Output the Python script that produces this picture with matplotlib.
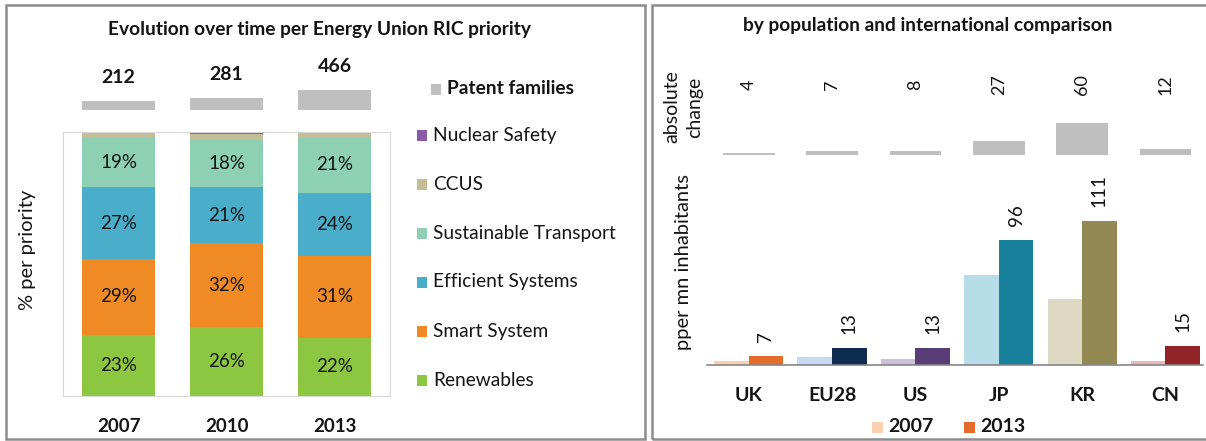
import matplotlib
matplotlib.use('Agg')

import numpy as np
import matplotlib.pyplot as plt
from matplotlib.patches import Rectangle

plt.rcParams['font.family'] = ['Lato', 'DejaVu Sans']

# Left panel: share per Energy Union RIC priority
years = ['2007', '2010', '2013']
patent_families = [212, 281, 466]
renewables = [23, 26, 22]
smart_system = [29, 32, 31]
efficient_systems = [27, 21, 24]
sustainable_transport = [19, 18, 21]
ccus = [1.5, 2.2, 1.5]
nuclear_safety = [0.5, 0.8, 0.5]

# Right panel: patent families per mn inhabitants
countries = ['UK', 'EU28', 'US', 'JP', 'KR', 'CN']
per_mn_2007 = [3, 6, 5, 69, 51, 3]
per_mn_2013 = [7, 13, 13, 96, 111, 15]
abs_change = [4, 7, 8, 27, 60, 12]

W, H = 1206, 441
TXT = '#141414'


def box(x0, y0, x1, y1):
    # pixel box (top-left origin) -> figure fraction rect
    return [x0 / W, 1 - y1 / H, (x1 - x0) / W, (y1 - y0) / H]


fig = plt.figure(figsize=(W / 100, H / 100), dpi=100)

# panel frames
for x0, x1 in [(6, 645), (652, 1210)]:
    fig.add_artist(Rectangle((x0 / W, 1 - 439 / H), (x1 - x0) / W, 434 / H,
                             transform=fig.transFigure, fill=False,
                             edgecolor='#8c8c8c', lw=1.8))

# ---- left: stacked shares ----
series = [
    ('Renewables', renewables, '#8dc641'),
    ('Smart System', smart_system, '#f08a24'),
    ('Efficient Systems', efficient_systems, '#4aadc9'),
    ('Sustainable Transport', sustainable_transport, '#8dd0b3'),
    ('CCUS', ccus, '#c4bd97'),
    ('Nuclear Safety', nuclear_safety, '#8a5aa8'),
]
x = np.arange(len(years))
ax = fig.add_axes(box(63, 132, 390, 396))
bottom = np.zeros(len(years))
for name, vals, col in series:
    bars = ax.bar(x, vals, 0.667, bottom=bottom, color=col, linewidth=0)
    if vals[0] >= 5:
        ax.bar_label(bars, labels=[f'{v:.0f}%' for v in vals],
                     label_type='center', fontsize=13.5, color=TXT)
    bottom += np.array(vals)
ax.set_xlim(-0.514, 2.514)
ax.set_ylim(0, 100)
ax.set_xticks(x)
ax.set_xticklabels(years, fontsize=13.5, fontweight='bold', color=TXT)
ax.tick_params(length=0, pad=16)
ax.set_yticks([])
for s in ax.spines.values():
    s.set_color('#d9d9d9')
fig.text(27 / W, 1 - 250 / H, '% per priority', rotation=90, fontsize=14.5,
         color=TXT, ha='center', va='center')

# patent family totals above the stacks
axp = fig.add_axes(box(63, 50, 390, 110))
pb = axp.bar(x, patent_families, 0.667, color='#bfbfbf', linewidth=0)
axp.bar_label(pb, padding=11, fontsize=14, fontweight='bold', color=TXT)
axp.set_xlim(-0.514, 2.514)
axp.set_ylim(0, 1400)
axp.axis('off')

fig.text(319 / W, 1 - 29 / H, 'Evolution over time per Energy Union RIC priority',
         fontsize=13.8, fontweight='bold', color=TXT, ha='center', va='center')

# legend column
leg_rows = [('Patent families', '#bfbfbf', 89, True)]
for i, (name, vals, col) in enumerate(reversed(series)):
    leg_rows.append((name, col, 135 + 49 * i, False))
for name, col, yc, bold in leg_rows:
    mx = 431 if bold else 417
    fig.add_artist(Rectangle((mx / W, 1 - (yc + 5.5) / H), 10 / W, 11 / H,
                             transform=fig.transFigure, color=col, lw=0))
    fig.text((mx + 16) / W, 1 - yc / H, name, fontsize=13.8, color=TXT,
             fontweight='bold' if bold else 'normal', va='center', ha='left')

# ---- right: per population and international comparison ----
light = ['#fbd0b0', '#c6d9f0', '#ccc0da', '#b7dde8', '#ddd9c3', '#e6b9b8']
dark = ['#e36c2a', '#0f2b50', '#5a3c78', '#17819c', '#938953', '#922326']
xc = np.arange(len(countries))
xlim = (-0.5, 5.45)

axt = fig.add_axes(box(707, 60, 1203, 155))
axt.bar(xc, abs_change, 0.62, color='#bfbfbf', linewidth=0)
for xi, v in zip(xc, abs_change):
    axt.text(xi, 0.74, str(v), transform=axt.get_xaxis_transform(),
             rotation=90, ha='center', va='center', fontsize=13, color=TXT)
axt.set_xlim(*xlim)
axt.set_ylim(0, 178)
axt.axis('off')

axb = fig.add_axes(box(707, 170, 1203, 365))
bw = 0.415
b07 = axb.bar(xc - bw / 2, per_mn_2007, bw, color=light, linewidth=0)
b13 = axb.bar(xc + bw / 2, per_mn_2013, bw, color=dark, linewidth=0)
axb.bar_label(b13, padding=10, rotation=90, fontsize=13.5, color=TXT)
axb.set_xlim(*xlim)
axb.set_ylim(0, 150)
axb.set_xticks(xc)
axb.set_xticklabels(countries, fontsize=14, fontweight='bold', color=TXT)
axb.tick_params(length=0, pad=16)
axb.set_yticks([])
for side in ['top', 'right', 'left']:
    axb.spines[side].set_visible(False)
axb.spines['bottom'].set_color('#868686')
axb.spines['bottom'].set_linewidth(1.2)

fig.text(928 / W, 1 - 26 / H, 'by population and international comparison',
         fontsize=13.8, fontweight='bold', color=TXT, ha='center', va='center')
fig.text(672 / W, 1 - 107 / H, 'absolute', rotation=90, fontsize=14,
         color=TXT, ha='center', va='center')
fig.text(695 / W, 1 - 107 / H, 'change', rotation=90, fontsize=14,
         color=TXT, ha='center', va='center')
fig.text(684 / W, 1 - 262 / H, 'pper mn inhabitants', rotation=90,
         fontsize=14.5, color=TXT, ha='center', va='center')

# year legend
for mx, col, lab in [(872, light[0], '2007'), (964, dark[0], '2013')]:
    fig.add_artist(Rectangle((mx / W, 1 - 432.5 / H), 10.5 / W, 11 / H,
                             transform=fig.transFigure, color=col, lw=0))
    fig.text((mx + 16) / W, 1 - 427 / H, lab, fontsize=14, fontweight='bold',
             color=TXT, va='center', ha='left')

fig.savefig('out.png', dpi=100)
